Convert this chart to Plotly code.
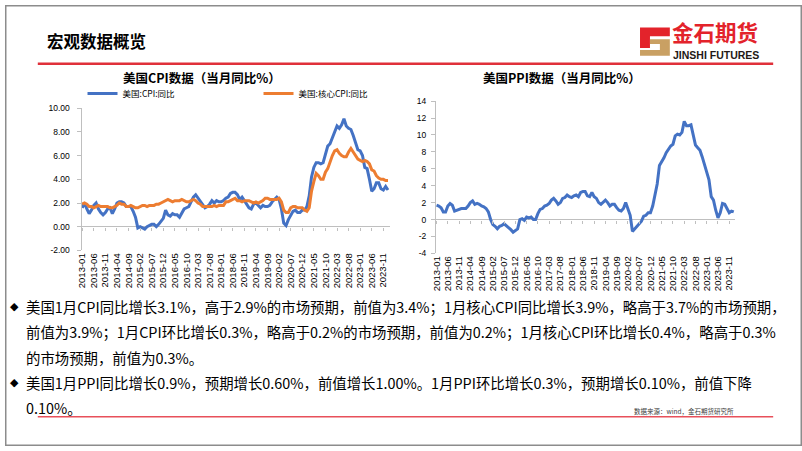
import plotly.graph_objects as go

W, H = 802, 451

# ---------------- data ----------------
months = [f"{y}-{m:02d}" for y in range(2013, 2025) for m in range(1, 13)][:133]

tick_labels = ["2013-01", "2013-06", "2013-11", "2014-04", "2014-09", "2015-02", "2015-07",
               "2015-12", "2016-05", "2016-10", "2017-03", "2017-08", "2018-01", "2018-06",
               "2018-11", "2019-04", "2019-09", "2020-02", "2020-07", "2020-12", "2021-05",
               "2021-10", "2022-03", "2022-08", "2023-01", "2023-06", "2023-11"]

cpi_yoy = [1.6, 2.0, 1.5, 1.1, 1.4, 1.8, 2.0, 1.5, 1.2, 1.0, 1.2, 1.5,
           1.6, 1.1, 1.5, 2.0, 2.1, 2.1, 2.0, 1.7, 1.7, 1.7, 1.3, 0.8,
           -0.1, 0.0, -0.1, -0.2, 0.0, 0.1, 0.2, 0.2, 0.0, 0.2, 0.5, 0.7,
           1.4, 1.0, 0.9, 1.1, 1.0, 1.0, 0.8, 1.1, 1.5, 1.6, 1.7, 2.1,
           2.5, 2.7, 2.4, 2.2, 1.9, 1.6, 1.7, 1.9, 2.2, 2.0, 2.2, 2.1,
           2.1, 2.2, 2.4, 2.5, 2.8, 2.9, 2.9, 2.7, 2.3, 2.5, 2.2, 1.9,
           1.6, 1.5, 1.9, 2.0, 1.8, 1.6, 1.8, 1.7, 1.7, 1.8, 2.1, 2.3,
           2.5, 2.3, 1.5, 0.3, 0.1, 0.6, 1.0, 1.3, 1.4, 1.2, 1.2, 1.4,
           1.4, 1.7, 2.6, 4.2, 5.0, 5.4, 5.4, 5.3, 5.4, 6.2, 6.8, 7.0,
           7.5, 7.9, 8.5, 8.3, 8.6, 9.1, 8.5, 8.3, 8.2, 7.7, 7.1, 6.5,
           6.4, 6.0, 5.0, 4.9, 4.0, 3.0, 3.2, 3.7, 3.7, 3.2, 3.1, 3.4,
           3.1]

core_cpi_yoy = [1.9, 2.0, 1.9, 1.7, 1.7, 1.6, 1.7, 1.8, 1.7, 1.7, 1.7, 1.7,
                1.6, 1.6, 1.7, 1.8, 2.0, 1.9, 1.9, 1.7, 1.7, 1.8, 1.7, 1.6,
                1.6, 1.7, 1.8, 1.8, 1.7, 1.8, 1.8, 1.8, 1.9, 1.9, 2.0, 2.1,
                2.2, 2.3, 2.2, 2.1, 2.2, 2.2, 2.2, 2.3, 2.2, 2.1, 2.1, 2.2,
                2.3, 2.2, 2.0, 1.9, 1.7, 1.7, 1.7, 1.7, 1.7, 1.8, 1.7, 1.8,
                1.8, 1.8, 2.1, 2.1, 2.2, 2.3, 2.4, 2.2, 2.2, 2.1, 2.2, 2.2,
                2.2, 2.1, 2.0, 2.1, 2.0, 2.1, 2.2, 2.4, 2.4, 2.3, 2.3, 2.3,
                2.3, 2.4, 2.1, 1.4, 1.2, 1.2, 1.6, 1.7, 1.7, 1.6, 1.6, 1.6,
                1.4, 1.3, 1.6, 3.0, 3.8, 4.5, 4.3, 4.0, 4.0, 4.6, 4.9, 5.5,
                6.0, 6.4, 6.5, 6.2, 6.0, 5.9, 5.9, 6.3, 6.6, 6.3, 6.0, 5.7,
                5.6, 5.5, 5.6, 5.5, 5.3, 4.8, 4.7, 4.3, 4.1, 4.0, 4.0, 3.9,
                3.9]

ppi_yoy = [1.7, 1.6, 1.4, 0.9, 0.9, 1.6, 1.9, 1.7, 1.0, 1.1, 1.2, 1.3,
           1.3, 1.3, 1.6, 2.0, 2.2, 1.8, 1.9, 1.8, 1.6, 1.5, 1.3, 0.9,
           0.0, -0.6, -0.8, -1.1, -0.8, -0.7, -0.5, -0.7, -1.0, -1.2, -1.5, -1.3,
           -1.1, 0.0, 0.1, -0.1, 0.3, 0.2, 0.3, 0.0, 0.0, 0.7, 1.2, 1.3,
           1.6, 1.7, 1.9, 2.3, 2.5, 2.2, 1.8, 2.0, 2.5, 2.6, 2.9, 2.7,
           2.6, 2.8, 2.9, 2.7, 3.2, 3.3, 3.3, 2.8, 2.7, 3.2, 2.7, 2.5,
           2.0, 1.8, 2.1, 2.3, 2.0, 1.6, 1.8, 1.8, 1.4, 1.1, 1.0, 1.3,
           2.0, 1.3, 0.5, -1.4, -1.1, -0.8, -0.5, -0.2, 0.4, 0.5, 0.8, 0.8,
           1.6, 2.9, 4.2, 6.4, 6.8, 7.3, 7.9, 8.3, 8.7, 8.9, 9.9, 10.1,
           10.0, 10.3, 11.6, 11.1, 11.1, 11.2, 9.8, 8.8, 8.5, 8.2, 7.4, 6.4,
           5.7, 4.7, 2.7, 2.3, 1.1, 0.2, 0.8, 1.9, 1.8, 1.2, 0.8, 1.0,
           0.9]

cpi_y_ticks = [-2, 0, 2, 4, 6, 8, 10]
cpi_y_labels = ["-2.00", "0.00", "2.00", "4.00", "6.00", "8.00", "10.00"]
ppi_y_ticks = [-4, -2, 0, 2, 4, 6, 8, 10, 12, 14]
ppi_y_labels = ["-4", "-2", "0", "2", "4", "6", "8", "10", "12", "14"]

series_names = ["美国:CPI:同比", "美国:核心CPI:同比", "美国:PPI:同比"]

slide_title = "宏观数据概览"
cpi_title = "美国CPI数据（当月同比%）"
ppi_title = "美国PPI数据（当月同比%）"
body_lines = [
    "美国1月CPI同比增长3.1%，高于2.9%的市场预期，前值为3.4%；1月核心CPI同比增长3.9%，略高于3.7%的市场预期，",
    "前值为3.9%；1月CPI环比增长0.3%，略高于0.2%的市场预期，前值为0.2%；1月核心CPI环比增长0.4%，略高于0.3%",
    "的市场预期，前值为0.3%。",
    "美国1月PPI同比增长0.9%，预期增长0.60%，前值增长1.00%。1月PPI环比增长0.3%，预期增长0.10%，前值下降",
    "0.10%。",
]
bullet_lines = [0, 3]
source_text = "数据来源：wind，金石期货研究所"
logo_cn = "金石期货"
logo_en = "JINSHI FUTURES"

# ---------------- helpers ----------------
def fx(px):
    return px / W

def fy(py):
    return 1 - py / H

BLUE = "#4472C4"
ORANGE = "#ED7D31"
AXIS = "#BFBFBF"
CJK = "Noto Sans CJK SC"
LAT = "Liberation Sans"

# plot-area geometry (pixels)
L_X0, L_X1, L_Y0, L_Y1 = 77.0, 387.0, 251.0, 105.5
R_X0, R_X1, R_Y0, R_Y1 = 433.6, 734.9, 254.0, 98.3
L_RANGE, R_RANGE = [-2, 10], [-4, 14]

def zero_px(y0, y1, rng):
    return y0 - (0 - rng[0]) / (rng[1] - rng[0]) * (y0 - y1)

fig = go.Figure()
fig.add_trace(go.Scatter(x=months, y=cpi_yoy, name=series_names[0], mode="lines",
                         line=dict(color=BLUE, width=3), xaxis="x", yaxis="y"))
fig.add_trace(go.Scatter(x=months, y=core_cpi_yoy, name=series_names[1], mode="lines",
                         line=dict(color=ORANGE, width=3), xaxis="x", yaxis="y"))
fig.add_trace(go.Scatter(x=months, y=ppi_yoy, name=series_names[2], mode="lines",
                         line=dict(color=BLUE, width=3), xaxis="x2", yaxis="y2",
                         showlegend=False))
# invisible carriers for the tick-mark axes drawn along the zero lines
fig.add_trace(go.Scatter(x=months, y=cpi_yoy, mode="lines", line=dict(width=0), opacity=0,
                         xaxis="x3", yaxis="y", showlegend=False, hoverinfo="skip"))
fig.add_trace(go.Scatter(x=months, y=ppi_yoy, mode="lines", line=dict(width=0), opacity=0,
                         xaxis="x4", yaxis="y2", showlegend=False, hoverinfo="skip"))

xcommon = dict(type="category", tickmode="array", tickvals=tick_labels, ticktext=tick_labels,
               tickangle=-90, tickfont=dict(family=LAT, size=9.5, color="#000000"),
               showline=False, showgrid=False, zeroline=False, ticks="",
               range=[-0.3, 132.7], fixedrange=True)
xtickaxis = dict(type="category", tickmode="array", tickvals=tick_labels, showticklabels=False,
                 showline=False, showgrid=False, zeroline=False, ticks="outside", ticklen=3,
                 tickcolor=AXIS, tickwidth=1, range=[-0.3, 132.7], fixedrange=True,
                 anchor="free", side="bottom")
ycommon = dict(showline=True, linecolor=AXIS, linewidth=1, ticks="outside", ticklen=4,
               tickcolor=AXIS, showgrid=False, zeroline=True, zerolinecolor=AXIS,
               zerolinewidth=1, tickfont=dict(family=LAT, size=8.5, color="#000000"),
               tickmode="array", fixedrange=True)

fig.update_layout(
    width=W, height=H,
    margin=dict(l=0, r=0, t=0, b=0),
    paper_bgcolor="white", plot_bgcolor="white",
    xaxis=dict(domain=[fx(L_X0), fx(L_X1)], anchor="y", **xcommon),
    yaxis=dict(domain=[fy(L_Y0), fy(L_Y1)], range=L_RANGE, anchor="x",
               tickvals=cpi_y_ticks, ticktext=cpi_y_labels, ticklabelstandoff=5, **ycommon),
    xaxis2=dict(domain=[fx(R_X0), fx(R_X1)], anchor="y2", **xcommon),
    yaxis2=dict(domain=[fy(R_Y0), fy(R_Y1)], range=R_RANGE, anchor="x2",
                tickvals=ppi_y_ticks, ticktext=ppi_y_labels, ticklabelstandoff=3, **ycommon),
    xaxis3=dict(overlaying="x", position=fy(zero_px(L_Y0, L_Y1, L_RANGE)), **xtickaxis),
    xaxis4=dict(overlaying="x2", position=fy(zero_px(R_Y0, R_Y1, R_RANGE)), **xtickaxis),
    legend=dict(orientation="h", x=fx(78), y=fy(90.5), xanchor="left", yanchor="middle",
                font=dict(family=CJK, size=8.5, color="#000000"),
                itemwidth=30, entrywidth=131, entrywidthmode="pixels",
                bgcolor="rgba(0,0,0,0)", borderwidth=0, tracegroupgap=0),
    showlegend=True,
)

ann = []
ann.append(dict(text="<b>" + slide_title + "</b>", x=fx(40), y=fy(37), xanchor="left",
                yanchor="middle", font=dict(family=CJK, size=16.5, color="#000000")))
ann.append(dict(text="<b>" + cpi_title + "</b>", x=fx(198.5), y=fy(74), xanchor="center",
                yanchor="middle", font=dict(family=CJK, size=12.5, color="#000000")))
ann.append(dict(text="<b>" + ppi_title + "</b>", x=fx(560.5), y=fy(74), xanchor="center",
                yanchor="middle", font=dict(family=CJK, size=12.5, color="#000000")))
# logo text
ann.append(dict(text="<b>" + logo_cn + "</b>", x=fx(670), y=fy(44), xanchor="left",
                yanchor="bottom", borderpad=0,
                font=dict(family=CJK, size=21.5, color="#E3232B")))
ann.append(dict(text="<b>" + logo_en + "</b>", x=fx(671), y=fy(44), xanchor="left",
                yanchor="top", borderpad=0,
                font=dict(family=LAT, size=10.5, color="#231815")))
# body text
body_y = [308, 334, 360, 386, 412]
for i, (t, by) in enumerate(zip(body_lines, body_y)):
    ann.append(dict(text=t, x=fx(19), y=fy(by), xanchor="left", yanchor="middle",
                    font=dict(family=CJK, size=14.4, color="#000000")))
    if i in bullet_lines:
        ann.append(dict(text="◆", x=fx(10), y=fy(by), xanchor="center", yanchor="middle",
                        font=dict(family="DejaVu Sans", size=11, color="#000000")))
ann.append(dict(text=source_text, x=fx(683), y=fy(415.5), xanchor="center", yanchor="middle",
                font=dict(family=CJK, size=6.5, color="#404040")))
for a in ann:
    a.update(xref="paper", yref="paper", showarrow=False)
fig.update_layout(annotations=ann)

def path(points):
    return "M" + " L".join(f"{fx(x):.5f},{fy(y):.5f}" for x, y in points) + " Z"

shapes = [
    dict(type="rect", x0=fx(0.75), x1=fx(801.25), y0=fy(450.25), y1=fy(0.75),
         line=dict(color="#8C8C8C", width=1.5)),
    dict(type="line", x0=fx(33), x1=fx(773), y0=fy(60), y1=fy(60),
         line=dict(color="#E0303A", width=2.5)),
    dict(type="line", x0=fx(33), x1=fx(773), y0=fy(421), y1=fy(421),
         line=dict(color="#E8505A", width=1.5)),
    dict(type="path", path=path([(639, 23), (669, 23), (669, 32), (649, 32), (649, 44), (639, 44)]),
         fillcolor="#E3232B", line=dict(width=0)),
    dict(type="path", path=path([(649, 35), (669, 35), (669, 52), (639, 52), (639, 46), (659, 46),
                                 (659, 40), (649, 40)]),
         fillcolor="#C9A063", line=dict(width=0)),
]
for s in shapes:
    s.update(xref="paper", yref="paper", layer="above")
fig.update_layout(shapes=shapes)

fig.write_html("out.html", config={"displayModeBar": False},
               post_script="document.body.style.margin='0';document.body.style.overflow='hidden';")
